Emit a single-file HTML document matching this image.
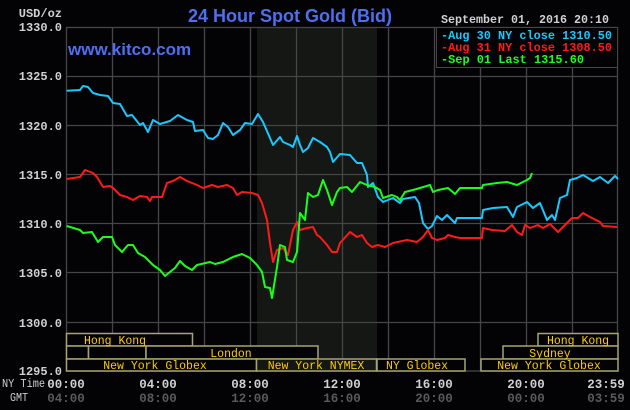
<!DOCTYPE html>
<html><head><meta charset="utf-8"><style>
html,body{margin:0;padding:0;background:#030306;}
svg{display:block}
</style></head><body>
<svg width="630" height="410" xmlns="http://www.w3.org/2000/svg" font-family="Liberation Mono, monospace">
<rect width="630" height="410" fill="#030306"/>
<rect x="257" y="27" width="120" height="344" fill="#141714"/>
<g stroke="#464646" stroke-width="1.3">
<line x1="112.5" y1="27" x2="112.5" y2="371"/><line x1="158.5" y1="27" x2="158.5" y2="371"/>
<line x1="204.5" y1="27" x2="204.5" y2="371"/><line x1="250.5" y1="27" x2="250.5" y2="371"/>
<line x1="296.5" y1="27" x2="296.5" y2="371"/><line x1="342.5" y1="27" x2="342.5" y2="371"/>
<line x1="388.5" y1="27" x2="388.5" y2="371"/><line x1="434.5" y1="27" x2="434.5" y2="371"/>
<line x1="480.5" y1="27" x2="480.5" y2="371"/><line x1="526.5" y1="27" x2="526.5" y2="371"/>
<line x1="572.5" y1="27" x2="572.5" y2="371"/>
<line x1="66" y1="76.5" x2="618" y2="76.5"/><line x1="66" y1="125.5" x2="618" y2="125.5"/>
<line x1="66" y1="174.5" x2="618" y2="174.5"/><line x1="66" y1="223.5" x2="618" y2="223.5"/>
<line x1="66" y1="272.5" x2="618" y2="272.5"/><line x1="66" y1="322.5" x2="618" y2="322.5"/>
<rect x="66.5" y="27.5" width="551" height="343.5" fill="none"/>
</g>
<g font-weight="bold" font-size="12" fill="#d0d0d0" text-anchor="end">
<text x="62" y="17" text-anchor="end">USD/oz</text>
<text x="62" y="31">1330.0</text><text x="62" y="80">1325.0</text><text x="62" y="130">1320.0</text>
<text x="62" y="179">1315.0</text><text x="62" y="228">1310.0</text><text x="62" y="277">1305.0</text>
<text x="62" y="327">1300.0</text><text x="62" y="375">1295.0</text>
</g>
<text x="290" y="22" font-family="Liberation Sans, sans-serif" font-weight="bold" font-size="18" fill="#4f6ff0" text-anchor="middle">24 Hour Spot Gold (Bid)</text>
<text x="68" y="55" font-family="Liberation Sans, sans-serif" font-weight="bold" font-size="17" fill="#4f6ff0">www.kitco.com</text>
<text x="441" y="23" font-weight="bold" font-size="12" fill="#d0d0d0" textLength="168" lengthAdjust="spacingAndGlyphs">September 01, 2016 20:10</text>
<rect x="436.5" y="27.5" width="181" height="40" fill="#030306" stroke="#464646"/>
<g font-weight="bold" font-size="12">
<text x="441" y="39" fill="#19c8ff" textLength="171" lengthAdjust="spacingAndGlyphs">-Aug 30 NY close 1310.50</text>
<text x="441" y="51" fill="#ff1a1a" textLength="171" lengthAdjust="spacingAndGlyphs">-Aug 31 NY close 1308.50</text>
<text x="441" y="63" fill="#1aff1a" textLength="143" lengthAdjust="spacingAndGlyphs">-Sep 01 Last 1315.60</text>
</g>
<g fill="none" stroke-width="2" stroke-linejoin="round">
<polyline stroke="#19c8ff" points="66.7,90.7 80,90 83,86 88,87 93,93 100,95 108,96 113,103 120,104 127,116 132,115 140,125 143,123 148,132 153,120 160,124 170,121 178,115 187,120 193,122 195,131 203,130 208,138 213,139 218,135 223,123 228,127 233,135 240,130 245,123 252,124 258,114 263,122 270,138 273,145 280,137 283,142 290,145 293,147 297,136 300,145 303,152 308,148 313,138 320,142 327,147 330,152 333,162 340,154 350,155 357,163 362,163 367,175 368,187 373,183 378,197 383,202 393,198 400,203 403,199 415,197 419,203 423,223 428,229 432,226 437,216 442,220 447,215 455,223 457,218 482,218 483,210 493,208 507,207 513,217 517,207 527,202 533,208 540,203 547,220 552,215 555,220 560,198 567,195 570,180 577,178 583,175 593,181 600,177 608,183 615,176 618,179"/>
<polyline stroke="#ff1a1a" points="66.7,179 80,177 85,170 93,173 97,177 103,187 110,186 113,188 120,195 127,197 133,200 140,196 147,197 150,201 152,197 162,197 167,183 173,181 180,177 187,181 197,185 203,188 212,185 218,187 227,185 233,188 237,195 242,192 252,193 258,195 262,203 267,220 270,243 273,262 277,250 283,248 288,255 293,230 297,222 300,230 307,228 313,227 317,235 320,237 327,245 332,252 337,252 340,243 350,232 357,237 362,235 367,243 372,247 378,245 385,247 393,243 407,240 417,242 423,237 428,230 432,238 437,240 445,238 448,235 455,237 460,238 482,238 483,228 492,230 505,231 512,225 517,232 522,235 525,225 530,228 538,225 543,228 550,224 558,232 565,225 572,218 578,218 583,213 590,217 600,222 603,226 617,227"/>
<polyline stroke="#1aff1a" points="66.7,226 80,230 83,233 92,232 98,242 103,237 112,237 115,245 122,252 128,245 133,245 138,253 145,257 153,265 160,270 165,276 170,272 175,268 180,261 185,266 192,270 197,265 210,262 215,264 223,262 233,257 242,254 250,258 257,265 262,272 265,287 270,288 272,298 277,267 280,245 285,247 287,260 293,262 297,252 300,213 305,220 308,193 313,197 318,195 323,180 327,190 332,205 337,192 340,188 347,187 352,192 360,182 367,185 375,187 380,190 383,198 392,195 397,197 400,200 405,192 413,190 420,188 430,185 433,192 438,190 448,188 455,194 460,188 482,188 483,185 497,183 507,182 517,185 527,180 530,178 532,173"/>
</g>
<g fill="#030306" stroke="#a8a46c" stroke-width="1.5">
<rect x="66.5" y="333.5" width="126" height="12.5"/>
<rect x="538" y="333.5" width="80" height="12.5"/>
<rect x="66.5" y="346" width="22" height="13"/>
<rect x="88.5" y="346" width="57.5" height="13"/>
<rect x="146" y="346" width="172" height="13"/>
<rect x="503" y="346" width="115" height="13"/>
<rect x="66.5" y="359" width="190" height="12"/>
<rect x="256.5" y="359" width="120" height="12" fill="#141714"/>
<rect x="377" y="359" width="88" height="12"/>
<rect x="481" y="359" width="137" height="12"/>
</g>
<g font-size="11.5" fill="#ffcc00" text-anchor="middle">
<text x="115" y="344">Hong Kong</text><text x="578" y="344">Hong Kong</text>
<text x="231" y="357">London</text><text x="550" y="357">Sydney</text>
<text x="155" y="369">New York Globex</text><text x="316" y="369">New York NYMEX</text>
<text x="417" y="369">NY Globex</text><text x="549" y="369">New York Globex</text>
</g>
<text x="2" y="387" font-size="11.5" fill="#d0d0d0" textLength="43" lengthAdjust="spacingAndGlyphs">NY Time</text>
<text x="10" y="401" font-size="11.5" fill="#d0d0d0" textLength="18" lengthAdjust="spacingAndGlyphs">GMT</text>
<g font-weight="bold" font-size="12.5" fill="#d0d0d0" text-anchor="middle">
<text x="66" y="388">00:00</text><text x="158" y="388">04:00</text><text x="250" y="388">08:00</text>
<text x="342" y="388">12:00</text><text x="434" y="388">16:00</text><text x="526" y="388">20:00</text><text x="606" y="388">23:59</text>
</g>
<g font-weight="bold" font-size="12.5" fill="#5a5a5a" text-anchor="middle">
<text x="66" y="402">04:00</text><text x="158" y="402">08:00</text><text x="250" y="402">12:00</text>
<text x="342" y="402">16:00</text><text x="434" y="402">20:00</text><text x="526" y="402">00:00</text><text x="606" y="402">03:59</text>
</g>
</svg>
</body></html>
